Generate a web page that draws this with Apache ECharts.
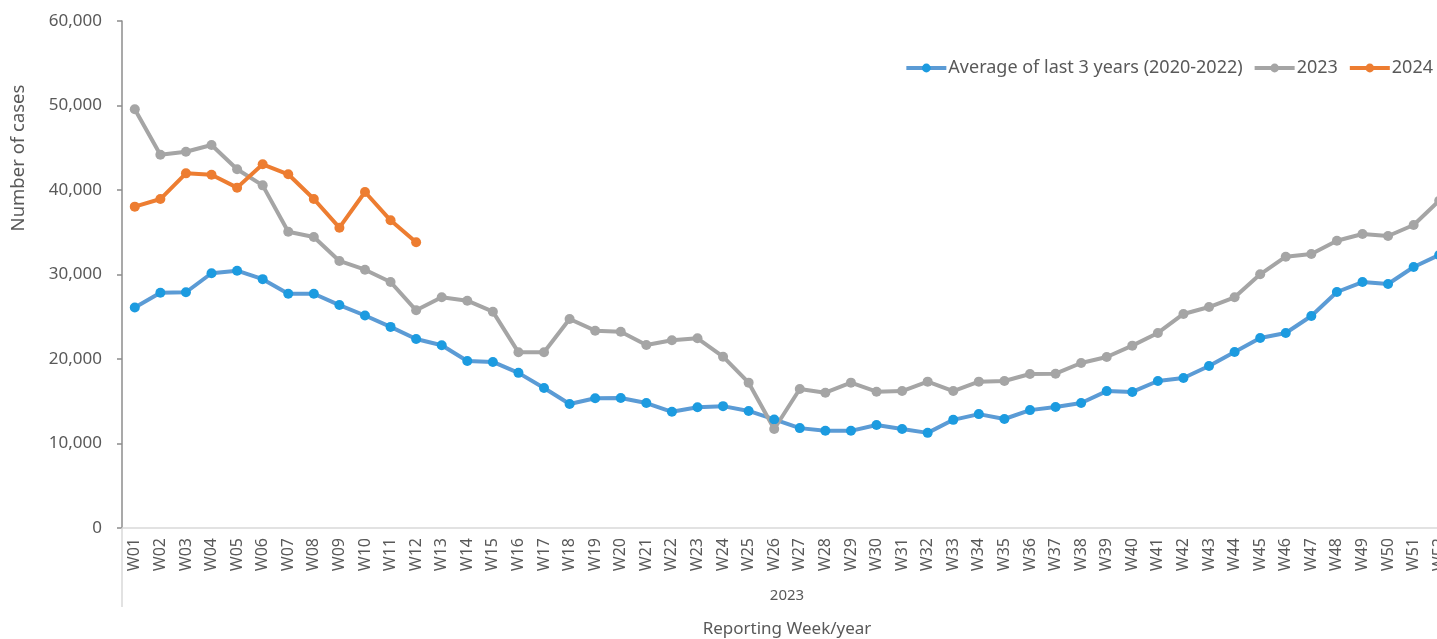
<!DOCTYPE html>
<html>
<head>
<meta charset="utf-8">
<script src="https://cdn.jsdelivr.net/npm/echarts@6/dist/echarts.min.js"></script>
<style>
html,body{margin:0;padding:0;background:#fff;}
#chart{width:1437px;height:639px;}
</style>
</head>
<body>
<div id="chart"></div>
<script>
const weeks = ['W01','W02','W03','W04','W05','W06','W07','W08','W09','W10','W11','W12','W13','W14','W15','W16','W17','W18','W19','W20','W21','W22','W23','W24','W25','W26','W27','W28','W29','W30','W31','W32','W33','W34','W35','W36','W37','W38','W39','W40','W41','W42','W43','W44','W45','W46','W47','W48','W49','W50','W51','W52'];
const yearGroup = ['2023'];
const yTicks = [0, 10000, 20000, 30000, 40000, 50000, 60000];

const avg3y = [26100,27850,27900,30150,30450,29450,27720,27720,26380,25150,23800,22370,21630,19760,19650,18360,16570,14670,15360,15380,14790,13750,14300,14420,13850,12850,11820,11500,11500,12190,11720,11260,12800,13480,12900,13950,14320,14790,16200,16100,17400,17750,19170,20830,22490,23080,25090,27930,29110,28880,30890,32310];
const y2023 = [49550,44180,44530,45330,42450,40550,35050,34440,31600,30570,29110,25760,27300,26900,25600,20790,20790,24730,23350,23230,21660,22210,22450,20270,17200,11720,16450,16010,17200,16130,16210,17320,16210,17320,17400,18220,18260,19530,20240,21580,23080,25330,26150,27300,30020,32110,32430,34000,34790,34560,35860,38730];
const y2024 = [38030,38930,41970,41810,40280,43040,41860,38930,35540,39760,36410,33810];

const seriesNames = ['Average of last 3 years (2020-2022)', '2023', '2024'];

const FONT = 'Noto Sans';
const TXT = '#595959';

const chart = echarts.init(document.getElementById('chart'));

function lineSeries(name, data, lineColor, markColor) {
  return {
    name: name,
    type: 'line',
    data: data,
    symbol: 'circle',
    symbolSize: 10,
    showAllSymbol: true,
    lineStyle: { color: lineColor, width: 4 },
    itemStyle: { color: markColor },
    emphasis: { disabled: true },
    animation: false
  };
}

chart.setOption({
  animation: false,
  textStyle: { fontFamily: FONT },
  grid: { left: 122, top: 21, height: 507, width: 1330, containLabel: false, outerBoundsMode: 'none' },
  legend: {
    data: seriesNames,
    right: -1,
    top: 54,
    itemWidth: 40,
    itemHeight: 11,
    itemGap: 10,
    lineStyle: { width: 4 },
    textStyle: { fontFamily: FONT, fontSize: 18, color: TXT, padding: [0, 0, 0, -3] }
  },
  xAxis: [
    {
      type: 'category',
      data: weeks,
      boundaryGap: true,
      axisLine: { show: true, lineStyle: { color: '#D9D9D9', width: 1.5 } },
      axisTick: { show: false },
      axisLabel: { rotate: 90, margin: 10, fontFamily: FONT, fontSize: 16, color: TXT, interval: 0 }
    },
    {
      type: 'category',
      data: yearGroup,
      position: 'bottom',
      boundaryGap: true,
      axisLine: { show: false },
      axisTick: { show: true, length: 79, lineStyle: { color: '#D9D9D9', width: 1.5 } },
      axisLabel: { margin: 60, fontFamily: FONT, fontSize: 15, color: TXT },
      name: 'Reporting Week/year',
      nameLocation: 'middle',
      nameGap: 93,
      nameTextStyle: { fontFamily: FONT, fontSize: 17, color: TXT }
    }
  ],
  yAxis: {
    type: 'value',
    min: yTicks[0],
    max: yTicks[yTicks.length - 1],
    interval: yTicks[1] - yTicks[0],
    splitLine: { show: false },
    axisLine: { show: true, lineStyle: { color: '#8C8C8C', width: 1.5 } },
    axisTick: { show: true, length: 5, lineStyle: { color: '#8C8C8C', width: 1.5 } },
    axisLabel: {
      margin: 20, fontFamily: FONT, fontSize: 17, color: TXT,
      formatter: v => v.toLocaleString('en-US')
    }
  },
  graphic: [
    {
      type: 'text',
      x: 9, y: 158,
      rotation: Math.PI / 2,
      style: {
        text: 'Number of cases',
        font: '18.5px "Noto Sans"',
        fill: TXT,
        textAlign: 'center',
        textVerticalAlign: 'top'
      }
    }
  ],
  series: [
    lineSeries(seriesNames[0], avg3y, '#5B9BD5', '#1C9BE0'),
    lineSeries(seriesNames[1], y2023, '#A5A5A5', '#A5A5A5'),
    lineSeries(seriesNames[2], y2024, '#ED7D31', '#ED7D31')
  ]
});
</script>
</body>
</html>
